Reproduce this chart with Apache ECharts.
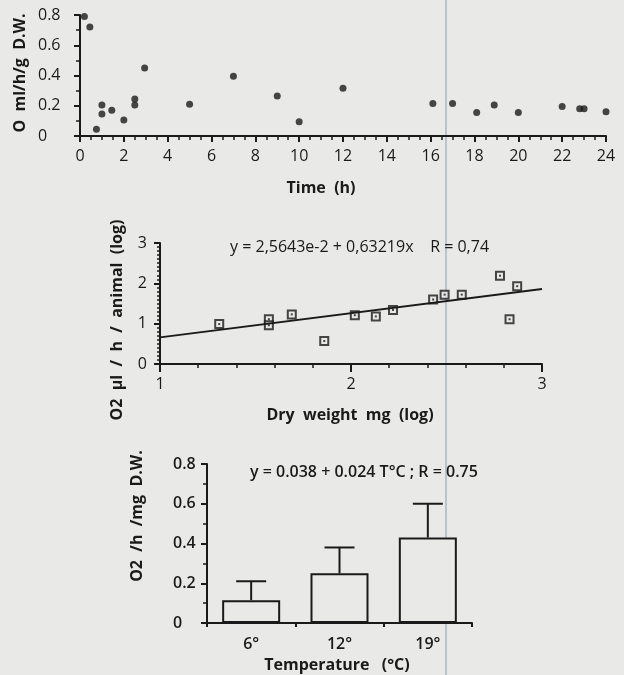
<!DOCTYPE html>
<html>
<head>
<meta charset="utf-8">
<script src="https://cdn.jsdelivr.net/npm/echarts@6/dist/echarts.min.js"></script>
<style>
    html, body { margin: 0; padding: 0; background: #e9e9e7; }
    #page { position: relative; width: 624px; height: 675px; }
    .panel { position: absolute; left: 0; top: 0; width: 624px; height: 675px; }
</style>
</head>
<body>
<div id="page">
    <div id="chart1" class="panel"></div>
    <div id="chart2" class="panel"></div>
    <div id="chart3" class="panel"></div>
    <div id="axes1" class="panel"></div>
    <div id="axes2" class="panel"></div>
</div>
<script>
const log = console.log.bind(console)
const e = sel => document.querySelector(sel)

// chart 1 : O2 consumption over time
const timeH = [0.2, 0.45, 0.75, 1.0, 1.0, 1.45, 2.0, 2.5, 2.5, 2.95, 5.0, 7.0, 9.0, 10.0, 12.0, 16.1, 17.0, 18.1, 18.9, 20.0, 22.0, 22.8, 23.0, 24.0]
const rateO2 = [0.79, 0.72, 0.045, 0.205, 0.145, 0.17, 0.105, 0.245, 0.205, 0.45, 0.21, 0.395, 0.265, 0.095, 0.315, 0.215, 0.215, 0.155, 0.205, 0.155, 0.195, 0.18, 0.18, 0.16]

// chart 2 : log O2 vs log dry weight
const dryWeightLog = [1.31, 1.57, 1.57, 1.69, 1.86, 2.02, 2.13, 2.22, 2.43, 2.49, 2.58, 2.78, 2.83, 2.87]
const o2Log = [0.99, 1.11, 0.96, 1.23, 0.57, 1.21, 1.18, 1.34, 1.60, 1.72, 1.72, 2.19, 1.11, 1.93]
const fitX = [1, 3]
const fitY = [0.66, 1.86]

// chart 3 : temperature
const tempCats = ['6°', '12°', '19°']
const meanRate = [0.115, 0.25, 0.43]
const errTop = [0.21, 0.38, 0.60]

const ink = '#1a1a1a'
const bg = '#e9e9e7'
const font = 'Open Sans'

const grid1 = { left: 80, top: 15, width: 526, height: 121 }
const grid2 = { left: 160, top: 243, width: 382, height: 121 }
const grid3 = { left: 207, top: 464, width: 265, height: 159 }

const axis = (o) => {
    let a = {
        type: o.type || 'value',
        axisLine: { show: true, onZero: false, lineStyle: { color: ink, width: 2 } },
        axisTick: { show: true, length: o.tick || 6, lineStyle: { color: ink, width: 2 } },
        minorTick: { show: !!o.minor, splitNumber: o.minor || 5, length: o.minorLen || 4, lineStyle: { color: ink, width: 1.5 } },
        splitLine: { show: false },
        axisLabel: {
            color: ink,
            fontSize: 16,
            fontWeight: o.weight || 'normal',
            fontFamily: font,
            margin: o.margin || 12,
        },
    }
    if (o.data) a.data = o.data
    if (o.min !== undefined) a.min = o.min
    if (o.max !== undefined) a.max = o.max
    if (o.interval) a.interval = o.interval
    if (o.align) a.axisLabel.align = o.align
    return a
}

// hidden axis for the layer that holds the marks
const scaleOnly = (min, max) => ({ type: 'value', min: min, max: max, show: false, splitLine: { show: false } })

const zip = (a, b) => a.map((v, i) => [v, b[i]])

const errorBar = (params, api) => {
    let x = api.value(0)
    let top = api.value(1)
    let base = api.value(2)
    let p0 = api.coord([x, base])
    let p1 = api.coord([x, top])
    let st = { stroke: ink, lineWidth: 2 }
    return {
        type: 'group',
        children: [
            { type: 'line', shape: { x1: p0[0], y1: p0[1], x2: p1[0], y2: p1[1] }, style: st },
            { type: 'line', shape: { x1: p1[0] - 15, y1: p1[1], x2: p1[0] + 15, y2: p1[1] }, style: st },
        ]
    }
}

const txt = (x, y, text, opt) => ({
    type: 'text',
    x: x,
    y: y,
    rotation: (opt && opt.rot) || 0,
    style: {
        text: text,
        fill: ink,
        font: `${(opt && opt.weight) || 'normal'} ${(opt && opt.size) || 16}px "${font}"`,
        align: (opt && opt.align) || 'center',
        verticalAlign: 'middle',
    },
})

const timeChart = () => {
    let chart = echarts.init(e('#chart1'))
    chart.setOption({
        animation: false,
        grid: grid1,
        xAxis: scaleOnly(0, 24),
        yAxis: scaleOnly(0, 0.8),
        series: [
            {
                type: 'scatter',
                clip: false,
                symbol: 'circle',
                symbolSize: 7,
                itemStyle: { color: ink },
                data: zip(timeH, rateO2),
            },
        ],
        graphic: [
            { type: 'line', shape: { x1: 446, y1: 0, x2: 446, y2: 675 }, style: { stroke: '#a9b4c6', lineWidth: 1.5 }, z: -1 },
        ],
    })
    let axes = echarts.init(e('#axes1'))
    axes.setOption({
        animation: false,
        grid: grid1,
        xAxis: axis({ min: 0, max: 24, interval: 2, minor: 4 }),
        yAxis: axis({ min: 0, max: 0.8, interval: 0.2, minor: 2, margin: 42, align: 'left' }),
        series: [],
        graphic: [
            txt(20, 73, 'O  ml/h/g  D.W.', { rot: Math.PI / 2, weight: 'bold' }),
            txt(321, 188, 'Time  (h)', { weight: 'bold' }),
        ],
    })
}

const weightChart = () => {
    let chart = echarts.init(e('#chart2'))
    chart.setOption({
        animation: false,
        grid: grid2,
        xAxis: scaleOnly(1, 3),
        yAxis: scaleOnly(0, 3),
        series: [
            {
                type: 'line',
                showSymbol: false,
                lineStyle: { color: ink, width: 2 },
                data: zip(fitX, fitY),
            },
            {
                type: 'scatter',
                symbol: 'rect',
                symbolSize: 8,
                itemStyle: { color: bg, borderColor: ink, borderWidth: 2 },
                data: zip(dryWeightLog, o2Log),
            },
            {
                type: 'scatter',
                symbol: 'rect',
                symbolSize: 2,
                itemStyle: { color: ink },
                data: zip(dryWeightLog, o2Log),
            },
        ],
    })
    let axes = echarts.init(e('#axes2'))
    axes.setOption({
        animation: false,
        grid: grid2,
        xAxis: axis({ min: 1, max: 3, interval: 1, minor: 5, tick: 8 }),
        yAxis: axis({ min: 0, max: 3, interval: 1, minor: 10, minorLen: 3, margin: 13 }),
        series: [],
        graphic: [
            txt(117, 320, 'O2  µl  /  h  /  animal  (log)', { rot: Math.PI / 2, weight: 'bold' }),
            txt(350, 415, 'Dry  weight  mg  (log)', { weight: 'bold' }),
            txt(230, 247, 'y = 2,5643e-2 + 0,63219x    R = 0,74', { align: 'left' }),
        ],
    })
}

const tempChart = () => {
    let chart = echarts.init(e('#chart3'))
    chart.setOption({
        animation: false,
        grid: grid3,
        xAxis: axis({ type: 'category', data: tempCats, tick: 4, weight: 600, margin: 13 }),
        yAxis: axis({ min: 0, max: 0.8, interval: 0.2, minor: 2, weight: 600, margin: 34, align: 'left' }),
        series: [
            {
                type: 'bar',
                barWidth: 58,
                itemStyle: { color: bg, borderColor: ink, borderWidth: 2 },
                data: meanRate,
            },
            {
                type: 'custom',
                renderItem: errorBar,
                data: tempCats.map((c, i) => [i, errTop[i], meanRate[i]]),
            },
        ],
        graphic: [
            txt(137, 516, 'O2  /h  /mg  D.W.', { rot: Math.PI / 2, weight: 'bold' }),
            txt(337, 665, 'Temperature   (°C)', { weight: 'bold' }),
            txt(250, 472, 'y = 0.038 + 0.024 T°C ; R = 0.75', { align: 'left', weight: 600 }),
        ],
    })
}

const __main = () => {
    timeChart()
    weightChart()
    tempChart()
}

__main()
</script>
</body>
</html>
